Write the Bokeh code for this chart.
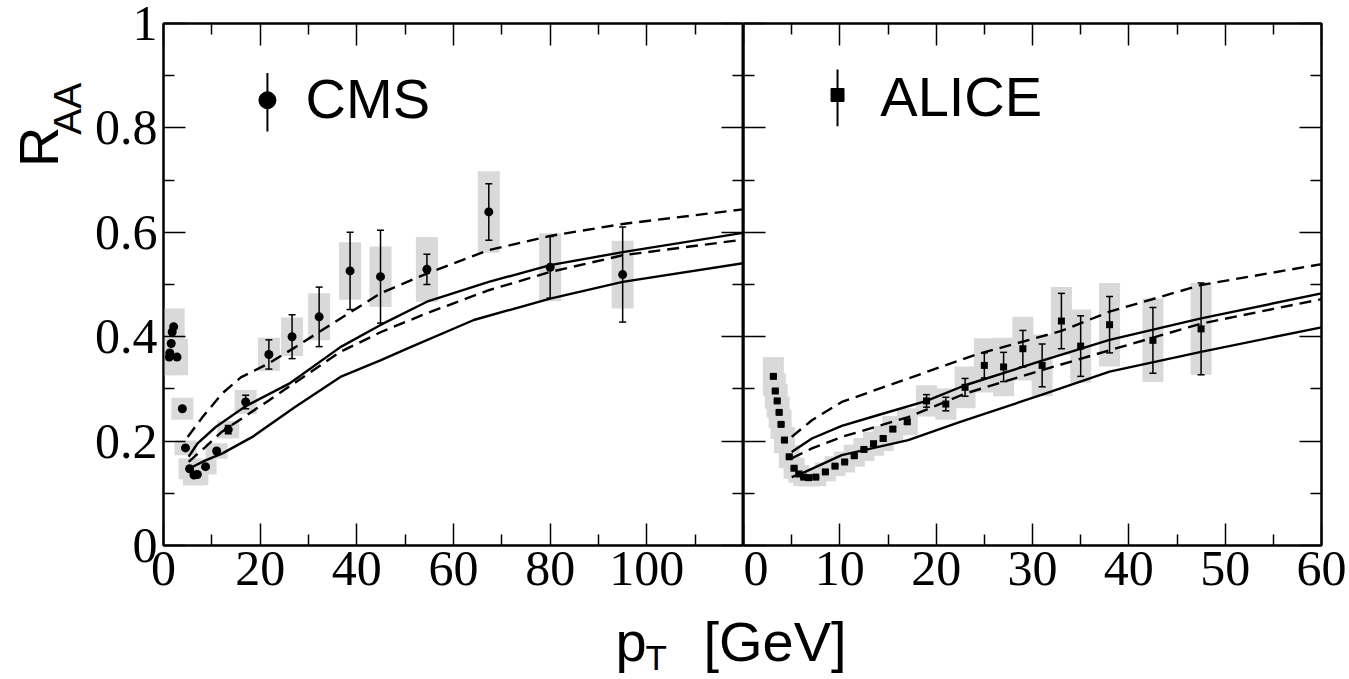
import math
from bokeh.plotting import figure
from bokeh.layouts import column, row
from bokeh.models import (Range1d, FixedTicker, LinearAxis, Whisker, TeeHead,
                          ColumnDataSource)
from bokeh.core.properties import value
from bokeh.embed import file_html
from bokeh.resources import INLINE

# ---------------- data ----------------
cms_pt = [1.2, 1.3, 1.6, 1.8, 2.1, 2.8, 3.9, 4.55, 5.4, 6.3, 7.0, 8.7, 11.0, 13.4,
          17.0, 21.8, 26.6, 32.2, 38.6, 44.9, 54.5, 67.3, 80.0, 95.0]
cms_raa = [0.361, 0.369, 0.387, 0.409, 0.419, 0.361, 0.262, 0.187, 0.147, 0.135, 0.136,
           0.151, 0.181, 0.222, 0.275, 0.366, 0.400, 0.438, 0.526, 0.515, 0.529, 0.639,
           0.533, 0.519]
cms_stat = [0.002, 0.002, 0.002, 0.002, 0.002, 0.002, 0.003, 0.003, 0.003, 0.003, 0.003,
            0.003, 0.004, 0.008, 0.013, 0.028, 0.042, 0.057, 0.074, 0.089, 0.029, 0.054,
            0.059, 0.091]
cms_sys = [0.035, 0.035, 0.035, 0.035, 0.035, 0.035, 0.021, 0.014, 0.020, 0.020, 0.020,
           0.015, 0.015, 0.017, 0.023, 0.032, 0.037, 0.045, 0.055, 0.058, 0.062, 0.078,
           0.065, 0.065]

cms_up_dash_x = [5.0, 8.0, 12.1, 16.0, 21.8, 27.3, 34.9, 44.9, 54.5, 67.3, 80.0, 95.0, 120.0]
cms_up_dash_y = [0.208, 0.245, 0.291, 0.322, 0.349, 0.380, 0.425, 0.483, 0.521, 0.566, 0.593, 0.616, 0.644]
cms_up_sol_x = [5.2, 7.0, 10.8, 17.0, 26.0, 36.6, 45.0, 54.5, 67.3, 80.0, 95.0, 120.0]
cms_up_sol_y = [0.170, 0.195, 0.227, 0.267, 0.310, 0.380, 0.423, 0.467, 0.505, 0.537, 0.562, 0.599]
cms_lo_dash_x = [5.2, 8.7, 12.1, 21.8, 36.6, 45.0, 54.5, 67.3, 80.0, 95.0, 120.0]
cms_lo_dash_y = [0.160, 0.189, 0.218, 0.278, 0.371, 0.409, 0.445, 0.489, 0.524, 0.556, 0.586]
cms_lo_sol_x = [5.2, 8.7, 12.1, 18.4, 27.3, 36.6, 45.0, 50.4, 64.2, 80.0, 95.0, 120.0]
cms_lo_sol_y = [0.147, 0.163, 0.176, 0.208, 0.266, 0.323, 0.355, 0.377, 0.432, 0.473, 0.505, 0.541]

alice_pt = [3.1, 3.3, 3.5, 3.7, 3.9, 4.25, 4.75, 5.25, 5.75, 6.25, 6.75, 7.5, 8.5, 9.5,
            10.5, 11.5, 12.5, 13.5, 14.5, 15.5, 17.0, 19.0, 21.0, 23.0, 25.0, 27.0, 29.0,
            31.0, 33.0, 35.0, 38.0, 42.5, 47.5]
alice_raa = [0.324, 0.296, 0.277, 0.255, 0.232, 0.202, 0.170, 0.148, 0.137, 0.131, 0.130,
             0.131, 0.141, 0.152, 0.160, 0.172, 0.184, 0.195, 0.205, 0.223, 0.237, 0.277,
             0.271, 0.303, 0.345, 0.342, 0.377, 0.345, 0.430, 0.382, 0.423, 0.393, 0.415]
alice_stat = [0.002, 0.002, 0.002, 0.002, 0.002, 0.002, 0.002, 0.002, 0.002, 0.002, 0.002,
              0.002, 0.002, 0.002, 0.002, 0.002, 0.002, 0.002, 0.003, 0.003, 0.004, 0.012,
              0.013, 0.017, 0.024, 0.028, 0.035, 0.041, 0.053, 0.058, 0.054, 0.063, 0.088]
alice_sys = [0.037, 0.034, 0.032, 0.030, 0.028, 0.025, 0.022, 0.020, 0.017, 0.017, 0.017,
             0.017, 0.018, 0.019, 0.020, 0.021, 0.022, 0.023, 0.024, 0.025, 0.026, 0.030,
             0.030, 0.040, 0.052, 0.056, 0.061, 0.059, 0.065, 0.070, 0.080, 0.080, 0.088]

alice_up_dash_x = [5.0, 7.1, 10.2, 17.1, 24.0, 33.0, 38.0, 47.5, 60.0]
alice_up_dash_y = [0.208, 0.240, 0.275, 0.320, 0.365, 0.411, 0.448, 0.499, 0.539]
alice_up_sol_x = [5.0, 7.1, 10.2, 14.0, 19.0, 23.0, 31.0, 38.0, 47.5, 60.0]
alice_up_sol_y = [0.179, 0.205, 0.229, 0.250, 0.277, 0.307, 0.354, 0.394, 0.435, 0.483]
alice_lo_dash_x = [5.0, 7.1, 10.2, 17.1, 23.0, 31.0, 38.0, 47.5, 60.0]
alice_lo_dash_y = [0.167, 0.186, 0.208, 0.246, 0.291, 0.336, 0.374, 0.425, 0.472]
alice_lo_sol_x = [5.0, 6.4, 10.2, 17.1, 22.5, 31.0, 38.0, 47.5, 60.0]
alice_lo_sol_y = [0.131, 0.141, 0.173, 0.202, 0.237, 0.289, 0.333, 0.371, 0.418]

y_ticks = [0, 0.2, 0.4, 0.6, 0.8, 1]
y_tick_labels = ["0", "0.2", "0.4", "0.6", "0.8", "1"]
y_minor = [0.1, 0.3, 0.5, 0.7, 0.9]
cms_x_ticks = [0, 20, 40, 60, 80, 100]
cms_x_labels = ["0", "20", "40", "60", "80", "100"]
cms_x_minor = [10, 30, 50, 70, 90, 110]
alice_x_ticks = [0, 10, 20, 30, 40, 50, 60]
alice_x_labels = ["0", "10", "20", "30", "40", "50", "60"]
alice_x_minor = [5, 15, 25, 35, 45, 55]

# ---------------- style ----------------
BOX = "#d9d9d9"
SERIF = "Liberation Serif"
SANS = "Liberation Sans"
TICK_FS = "50px"
LINE_W = 2.4
DASH = "12 7"
FRAME_TOP = 23
PANEL_H = 600
BOTTOM = 55


def style_axis(ax, show_labels, labels=None, ticks=None):
    ax.major_tick_in = 22
    ax.major_tick_out = 0
    ax.minor_tick_in = 11
    ax.minor_tick_out = 0
    ax.axis_line_width = 2
    ax.axis_line_color = "black"
    ax.major_tick_line_width = 1.5
    ax.minor_tick_line_width = 1.5
    ax.axis_label = None
    if show_labels:
        ax.major_label_text_font = SERIF
        ax.major_label_text_font_size = TICK_FS
        ax.major_label_text_color = "black"
        ax.major_label_standoff = 6
        ax.major_label_overrides = {t: l for t, l in zip(ticks, labels)}
    else:
        ax.major_label_text_font_size = "0px"
        ax.major_label_text_color = None
        ax.major_label_standoff = 0


def make_panel(width, xmax, xt, xl, xm, bl, br, ylabels):
    p = figure(width=width, height=PANEL_H, x_range=Range1d(0, xmax), y_range=Range1d(0, 1),
               output_backend="svg", toolbar_location=None, title=None,
               min_border_left=bl, min_border_right=br, min_border_top=FRAME_TOP,
               min_border_bottom=BOTTOM, x_axis_location=None, y_axis_location=None)
    p.grid.visible = False
    p.outline_line_color = "black"
    p.outline_line_width = 2
    p.background_fill_color = "white"
    p.border_fill_color = "white"
    xtk = FixedTicker(ticks=xt, minor_ticks=xm)
    ytk = FixedTicker(ticks=y_ticks, minor_ticks=y_minor)
    b = LinearAxis(ticker=xtk)
    style_axis(b, True, xl, xt)
    t = LinearAxis(ticker=xtk)
    style_axis(t, False)
    l = LinearAxis(ticker=ytk)
    style_axis(l, ylabels, y_tick_labels, y_ticks)
    r = LinearAxis(ticker=ytk)
    style_axis(r, False)
    p.add_layout(b, "below")
    p.add_layout(t, "above")
    p.add_layout(l, "left")
    p.add_layout(r, "right")
    return p


def draw_data(p, pt, raa, stat, sys, box_w):
    src = ColumnDataSource(dict(x=pt, y=raa, h=[2 * s for s in sys],
                                lo=[a - s for a, s in zip(raa, stat)],
                                hi=[a + s for a, s in zip(raa, stat)]))
    p.rect(x="x", y="y", width=box_w, width_units="screen", height="h", source=src,
           fill_color=BOX, line_color=None)
    return src


def draw_points(p, src, marker, msize):
    w = Whisker(base="x", upper="hi", lower="lo", source=src, dimension="height",
                line_width=1.5, line_color="black",
                upper_head=TeeHead(size=7, line_width=1.5, line_color="black"),
                lower_head=TeeHead(size=7, line_width=1.5, line_color="black"))
    w.level = "annotation"
    p.add_layout(w)
    p.scatter(x="x", y="y", source=src, marker=marker, size=msize,
              fill_color="black", line_color="black", line_width=0)


def draw_curves(p, curves):
    for xs, ys, dash in curves:
        p.line(xs, ys, line_color="black", line_width=LINE_W,
               line_dash=dash if dash else "solid")


def txt(p, x, y, s, size, angle=0.0):
    p.text(x=[x], y=[y], text=[s], angle=angle, text_font=value(SANS),
           text_font_size=value(size), text_color="black",
           text_baseline="alphabetic", text_align="left")


def strip(width, height):
    f = figure(width=width, height=height, x_range=Range1d(0, width), y_range=Range1d(height, 0),
               output_backend="svg", toolbar_location=None, title=None, min_border=0,
               x_axis_location=None, y_axis_location=None)
    f.grid.visible = False
    f.outline_line_color = None
    f.border_fill_color = "white"
    f.background_fill_color = "white"
    return f


# ---------------- y-axis title strip ----------------
pY = strip(90, PANEL_H)
txt(pY, 38, 165, "R", "56px", math.pi / 2)
txt(pY, 67, 128, "AA", "39px", math.pi / 2)

# ---------------- left panel (CMS) ----------------
pL = make_panel(653, 120, cms_x_ticks, cms_x_labels, cms_x_minor, 73, 0, True)
srcL = draw_data(pL, cms_pt, cms_raa, cms_stat, cms_sys, 22)
draw_curves(pL, [(cms_up_dash_x, cms_up_dash_y, DASH), (cms_lo_dash_x, cms_lo_dash_y, DASH),
                 (cms_up_sol_x, cms_up_sol_y, None), (cms_lo_sol_x, cms_lo_sol_y, None)])
draw_points(pL, srcL, "circle", 9)

cms_leg = dict(x=21.5, y=0.853, lo=0.793, hi=0.905, tx=29.4, ty=0.857)
pL.segment(x0=[cms_leg["x"]], y0=[cms_leg["lo"]], x1=[cms_leg["x"]], y1=[cms_leg["hi"]],
           line_color="black", line_width=2)
pL.scatter(x=[cms_leg["x"]], y=[cms_leg["y"]], marker="circle", size=17, fill_color="black",
           line_color="black")
txt(pL, cms_leg["tx"], cms_leg["ty"], "CMS", "56px")

# ---------------- right panel (ALICE) ----------------
pR = make_panel(606, 60, alice_x_ticks, alice_x_labels, alice_x_minor, 0, 28, False)
srcR = draw_data(pR, alice_pt, alice_raa, alice_stat, alice_sys, 21)
draw_curves(pR, [(alice_up_dash_x, alice_up_dash_y, DASH), (alice_lo_dash_x, alice_lo_dash_y, DASH),
                 (alice_up_sol_x, alice_up_sol_y, None), (alice_lo_sol_x, alice_lo_sol_y, None)])
draw_points(pR, srcR, "square", 7)

alice_leg = dict(x=9.76, y=0.863, lo=0.803, hi=0.912, tx=14.2, ty=0.861)
pR.segment(x0=[alice_leg["x"]], y0=[alice_leg["lo"]], x1=[alice_leg["x"]], y1=[alice_leg["hi"]],
           line_color="black", line_width=2)
pR.scatter(x=[alice_leg["x"]], y=[alice_leg["y"]], marker="square", size=13, fill_color="black",
           line_color="black")
txt(pR, alice_leg["tx"], alice_leg["ty"], "ALICE", "56px")

# ---------------- x-axis title strip ----------------
pT = strip(1349, 79)
txt(pT, 615, 41, "p", "56px")
txt(pT, 645, 57, "T", "35px")
txt(pT, 703, 41, "[GeV]", "56px")

layout = column(row(pY, pL, pR), pT)
open("out.html", "w").write(file_html(layout, INLINE))
